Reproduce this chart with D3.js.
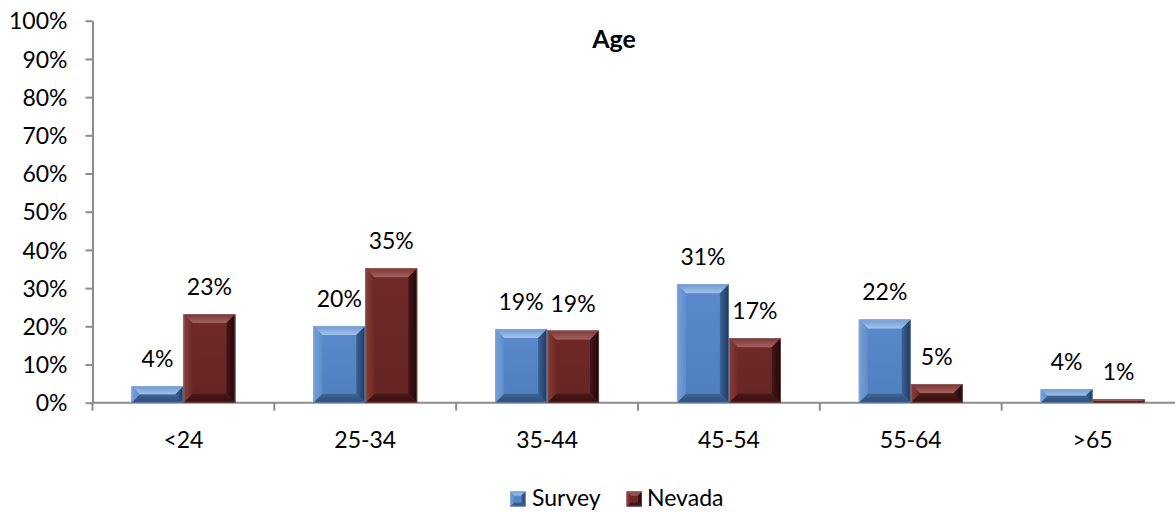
<!DOCTYPE html>
<html><head><meta charset="utf-8">
<script src="https://cdn.jsdelivr.net/npm/d3@7"></script>
<style>
html,body{margin:0;padding:0;background:#fff;}
svg{display:block;font-family:Lato,"Open Sans",sans-serif;}
</style></head>
<body>
<svg id="chart" width="1175" height="512"></svg>
<script>
const categories = ["<24","25-34","35-44","45-54","55-64",">65"];
const seriesNames = ["Survey","Nevada"];
const surveyValues = [0.043,0.201,0.193,0.310,0.218,0.036];
const nevadaValues = [0.232,0.352,0.189,0.169,0.049,0.009];
const yTicks = [0,0.1,0.2,0.3,0.4,0.5,0.6,0.7,0.8,0.9,1.0];
const title = "Age";

(function(){
const palette = {
  Survey:{base:["#5A8ACB","#4F7FBE"],top:["#6E99D2","#A3C2EA"],left:["#78A0D6","#5F8DCB"],right:["#3A6296","#1E3A5E"],bottom:["#3E6698","#2B4B74"],edge:"#9DB6D8"},
  Nevada:{base:["#712B29","#652422"],top:["#7A3533","#A36361"],left:["#85403D","#6E2927"],right:["#45161A","#220707"],bottom:["#4A1A19","#350F0E"],edge:"#B08E8D"}
};

const svg = d3.select("#chart");
const defs = svg.append("defs");
function grad(id, c, x1,y1,x2,y2){
  const g = defs.append("linearGradient").attr("id",id).attr("x1",x1).attr("y1",y1).attr("x2",x2).attr("y2",y2);
  g.append("stop").attr("offset","0%").attr("stop-color",c[0]);
  g.append("stop").attr("offset","100%").attr("stop-color",c[1]);
}
Object.keys(palette).forEach(k=>{
  const p = palette[k];
  grad(k+"-base",p.base,0,0,0,1);
  grad(k+"-top",p.top,0,0,0,1);
  grad(k+"-bottom",p.bottom,0,0,0,1);
  grad(k+"-left",p.left,0,0,1,0);
  grad(k+"-right",p.right,0,0,1,0);
});

const mLeft = 92.5, mRight = 1183.5, mTop = 20.7, mBottom = 402.7;
const fs = 23;

const x = d3.scaleBand().domain(categories).range([mLeft,mRight]).padding(0);
const y = d3.scaleLinear().domain([0,1]).range([mBottom,mTop]);
const barW = x.bandwidth()/3.5;
const x1 = d3.scaleBand().domain(seriesNames).range([0,2*barW]).padding(0);

// title
svg.append("text").attr("x",614).attr("y",48).attr("text-anchor","middle")
  .attr("font-size",25).attr("font-weight","bold").attr("fill","#000").text(title);

// y axis
const yAxis = d3.axisLeft(y).tickValues(yTicks).tickFormat(d3.format(".0%")).tickSize(7).tickSizeOuter(0).tickPadding(18);
const yg = svg.append("g").attr("transform",`translate(${mLeft},0)`).call(yAxis);
yg.select(".domain").attr("stroke","#8C8C8C").attr("stroke-width",2);
yg.selectAll(".tick line").attr("stroke","#8C8C8C").attr("stroke-width",2);
yg.selectAll(".tick text").attr("font-size",fs).attr("font-family","Lato").attr("fill","#000").attr("dy","0.36em");

// x axis line and ticks
const xg = svg.append("g");
xg.append("line").attr("x1",mLeft).attr("x2",mRight).attr("y1",mBottom).attr("y2",mBottom)
  .attr("stroke","#8C8C8C").attr("stroke-width",2);
const bounds = categories.map(c=>x(c)).concat([x(categories[categories.length-1])+x.bandwidth()]);
xg.selectAll("line.tk").data(bounds).join("line").attr("class","tk")
  .attr("x1",d=>d).attr("x2",d=>d).attr("y1",mBottom).attr("y2",mBottom+8)
  .attr("stroke","#8C8C8C").attr("stroke-width",2);
xg.selectAll("text.cat").data(categories).join("text").attr("class","cat")
  .attr("x",d=>x(d)+x.bandwidth()/2).attr("y",448).attr("text-anchor","middle")
  .attr("font-size",fs).attr("fill","#000").text(d=>d);

function bevelBar(g, bx, by, w, h, key, bev){
  const col = palette[key];
  const b = Math.max(0, Math.min(bev, h/2, w/2));
  const P = (pts)=>pts.map(p=>p.join(",")).join(" ");
  g.append("rect").attr("x",bx).attr("y",by).attr("width",w).attr("height",h).attr("fill",`url(#${key}-base)`);
  g.append("polygon").attr("points",P([[bx,by],[bx+w,by],[bx+w-b,by+b],[bx+b,by+b]])).attr("fill",`url(#${key}-top)`);
  g.append("polygon").attr("points",P([[bx,by+h],[bx+w,by+h],[bx+w-b,by+h-b],[bx+b,by+h-b]])).attr("fill",`url(#${key}-bottom)`);
  g.append("polygon").attr("points",P([[bx,by],[bx+b,by+b],[bx+b,by+h-b],[bx,by+h]])).attr("fill",`url(#${key}-left)`);
  g.append("polygon").attr("points",P([[bx+w,by],[bx+w-b,by+b],[bx+w-b,by+h-b],[bx+w,by+h]])).attr("fill",`url(#${key}-right)`);
  g.append("rect").attr("x",bx+0.5).attr("y",by+0.5).attr("width",Math.max(0,w-1)).attr("height",Math.max(0,h-1))
    .attr("fill","none").attr("stroke",col.edge).attr("stroke-width",0.8).attr("stroke-opacity",0.5);
}

const series = [
  {name:"Survey", values:surveyValues},
  {name:"Nevada", values:nevadaValues}
];
const barsG = svg.append("g");
const labelsG = svg.append("g");
series.forEach(s=>{
  categories.forEach((c,i)=>{
    const v = s.values[i];
    const bx = x(c) + (x.bandwidth()-2*barW)/2 + x1(s.name);
    const by = y(v);
    const h = y(0)-y(v);
    bevelBar(barsG.append("g"), bx, by, barW, h, s.name, 9);
    labelsG.append("text").attr("x",bx+barW/2).attr("y",by-19).attr("text-anchor","middle")
      .attr("font-size",fs).attr("fill","#000").text(Math.round(v*100)+"%");
  });
});

// legend
const legend = svg.append("g");
const legendItems = [{name:"Survey",sx:510,tx:532},{name:"Nevada",sx:626.5,tx:647}];
legendItems.forEach(li=>{
  bevelBar(legend.append("g"), li.sx, 491.5, 15.5, 15, li.name, 4);
  legend.append("text").attr("x",li.tx).attr("y",506).attr("font-size",fs).attr("fill","#000").text(li.name);
});
})();
</script>
</body></html>
